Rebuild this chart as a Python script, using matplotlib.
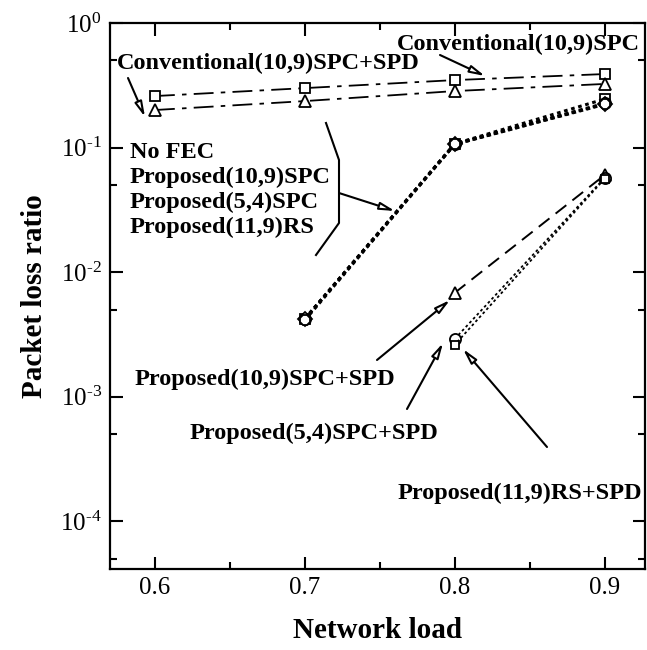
import matplotlib
matplotlib.use("Agg")
import matplotlib.pyplot as plt
from matplotlib.ticker import LogLocator, FixedLocator, NullFormatter, FuncFormatter
import numpy as np

plt.rcParams['font.family'] = ['Liberation Serif', 'DejaVu Serif']
plt.rcParams['mathtext.fontset'] = 'custom'
plt.rcParams['mathtext.rm'] = 'Liberation Serif'
plt.rcParams['mathtext.it'] = 'Liberation Serif:italic'
plt.rcParams['mathtext.bf'] = 'Liberation Serif:bold'

# ---- data ----
load_all = [0.6, 0.7, 0.8, 0.9]
load_hi = [0.7, 0.8, 0.9]
load_spd = [0.8, 0.9]

conv_spc = [0.259, 0.300, 0.348, 0.389]
conv_spc_spd = [0.200, 0.236, 0.284, 0.324]

no_fec = [0.0042, 0.107, 0.245]
prop_109_spc = [0.0042, 0.107, 0.226]
prop_54_spc = [0.0042, 0.106, 0.222]
prop_119_rs = [0.0041, 0.106, 0.224]

prop_109_spc_spd = [0.0068, 0.060]
prop_54_spc_spd = [0.0029, 0.057]
prop_119_rs_spd = [0.0026, 0.056]

x_ticks = [0.6, 0.7, 0.8, 0.9]
x_minor = [0.65, 0.75, 0.85]

# ---- figure ----
fig = plt.figure(figsize=(6.47, 6.50), dpi=100)
L, R, T, B = 110, 645, 23, 569
W, H = 647, 650
ax = fig.add_axes([L / W, 1 - B / H, (R - L) / W, (B - T) / H])

mk = dict(markerfacecolor='white', markeredgecolor='black', markeredgewidth=1.3, color='black')
dashdot = (0, (11, 4, 2.5, 4))

ax.plot(load_all, conv_spc, linestyle=dashdot, lw=1.3, marker='s', ms=7, **mk)
ax.plot(load_all, conv_spc_spd, linestyle=dashdot, lw=1.3, marker='^', ms=8, **mk)

dotted = (0, (1.2, 1.2))
ax.plot(load_hi, no_fec, linestyle=dotted, lw=2.2, marker='s', ms=7, **mk)
ax.plot(load_hi, prop_109_spc, linestyle=dotted, lw=2.2, marker='o', ms=8, **mk)
ax.plot(load_hi, prop_54_spc, linestyle=dotted, lw=2.2, marker='D', ms=7, **mk)
ax.plot(load_hi, prop_119_rs, linestyle=dotted, lw=2.2, marker='8', ms=8, **mk)

ax.plot(load_spd, prop_109_spc_spd, linestyle=(0, (7, 4)), lw=1.4, marker='^', ms=8, **mk)
ax.plot(load_spd, prop_54_spc_spd, linestyle=(0, (1.5, 1.5)), lw=1.3, marker='o', ms=8, **mk)
ax.plot(load_spd, prop_119_rs_spd, linestyle=(0.8, (1.5, 1.5)), lw=1.3, marker='s', ms=6, **mk)

ax.set_yscale('log')
ax.set_xlim(0.57, 0.927)
ax.set_ylim(10 ** -4.385, 1.0)

ax.xaxis.set_major_locator(FixedLocator(x_ticks))
ax.xaxis.set_minor_locator(FixedLocator(x_minor))
ax.set_xticklabels([f"{v:.1f}" for v in x_ticks])
ax.yaxis.set_major_locator(LogLocator(base=10, numticks=10))
ax.yaxis.set_minor_locator(LogLocator(base=10, subs=[5.0], numticks=10))
ax.yaxis.set_minor_formatter(NullFormatter())
ax.yaxis.set_major_formatter(FuncFormatter(
    lambda v, p: r'$\mathregular{10^{%s}}$' % ('%d' % round(np.log10(v))).replace('-', '\u2010')))

ax.tick_params(which='both', direction='in', top=True, right=True, width=1.5, colors='black')
ax.tick_params(which='major', length=9, labelsize=18, pad=6)
ax.tick_params(which='minor', length=5)
for sp in ax.spines.values():
    sp.set_linewidth(1.6)

ax.set_xlabel('Network load', fontsize=21, fontweight='bold', labelpad=13)
ax.set_ylabel('Packet loss ratio', fontsize=21, fontweight='bold', labelpad=9)

# ---- annotations ----
def fx(px):
    return (px - L) / (R - L)

def fy(py):
    return (B - py) / (B - T)

tf = dict(fontsize=17.5, fontweight='bold', color='black')
ap = dict(arrowstyle='-|>,head_length=0.9,head_width=0.22', fc='white', ec='black', lw=1.5,
          shrinkA=0, shrinkB=0)

def arrow(x0, y0, x1, y1):
    ax.annotate('', xy=(fx(x1), fy(y1)), xytext=(fx(x0), fy(y0)),
                xycoords='axes fraction', textcoords='axes fraction', arrowprops=ap)

ax.text(fx(640), fy(44), 'Conventional(10,9)SPC', ha='right', va='center', transform=ax.transAxes, **tf)
arrow(440, 55, 485, 76)
ax.text(fx(117), fy(63), 'Conventional(10,9)SPC+SPD', ha='left', va='center', transform=ax.transAxes, **tf)
arrow(128, 78, 145, 117)

for i, s in enumerate(['No FEC', 'Proposed(10,9)SPC', 'Proposed(5,4)SPC', 'Proposed(11,9)RS']):
    ax.text(fx(130), fy(152 + 25 * i), s, ha='left', va='center', transform=ax.transAxes, **tf)
ax.plot([fx(326), fx(339), fx(339), fx(316)], [fy(123), fy(160), fy(223), fy(255)],
        color='black', lw=1.5, transform=ax.transAxes, clip_on=False)
arrow(339, 193, 395, 211)

ax.text(fx(135), fy(379), 'Proposed(10,9)SPC+SPD', ha='left', va='center', transform=ax.transAxes, **tf)
arrow(377, 360, 450, 300)
ax.text(fx(190), fy(433), 'Proposed(5,4)SPC+SPD', ha='left', va='center', transform=ax.transAxes, **tf)
arrow(407, 409, 443, 343)
ax.text(fx(642), fy(493), 'Proposed(11,9)RS+SPD', ha='right', va='center', transform=ax.transAxes, **tf)
arrow(547, 447, 463, 349)

fig.savefig('out.png', dpi=100)
